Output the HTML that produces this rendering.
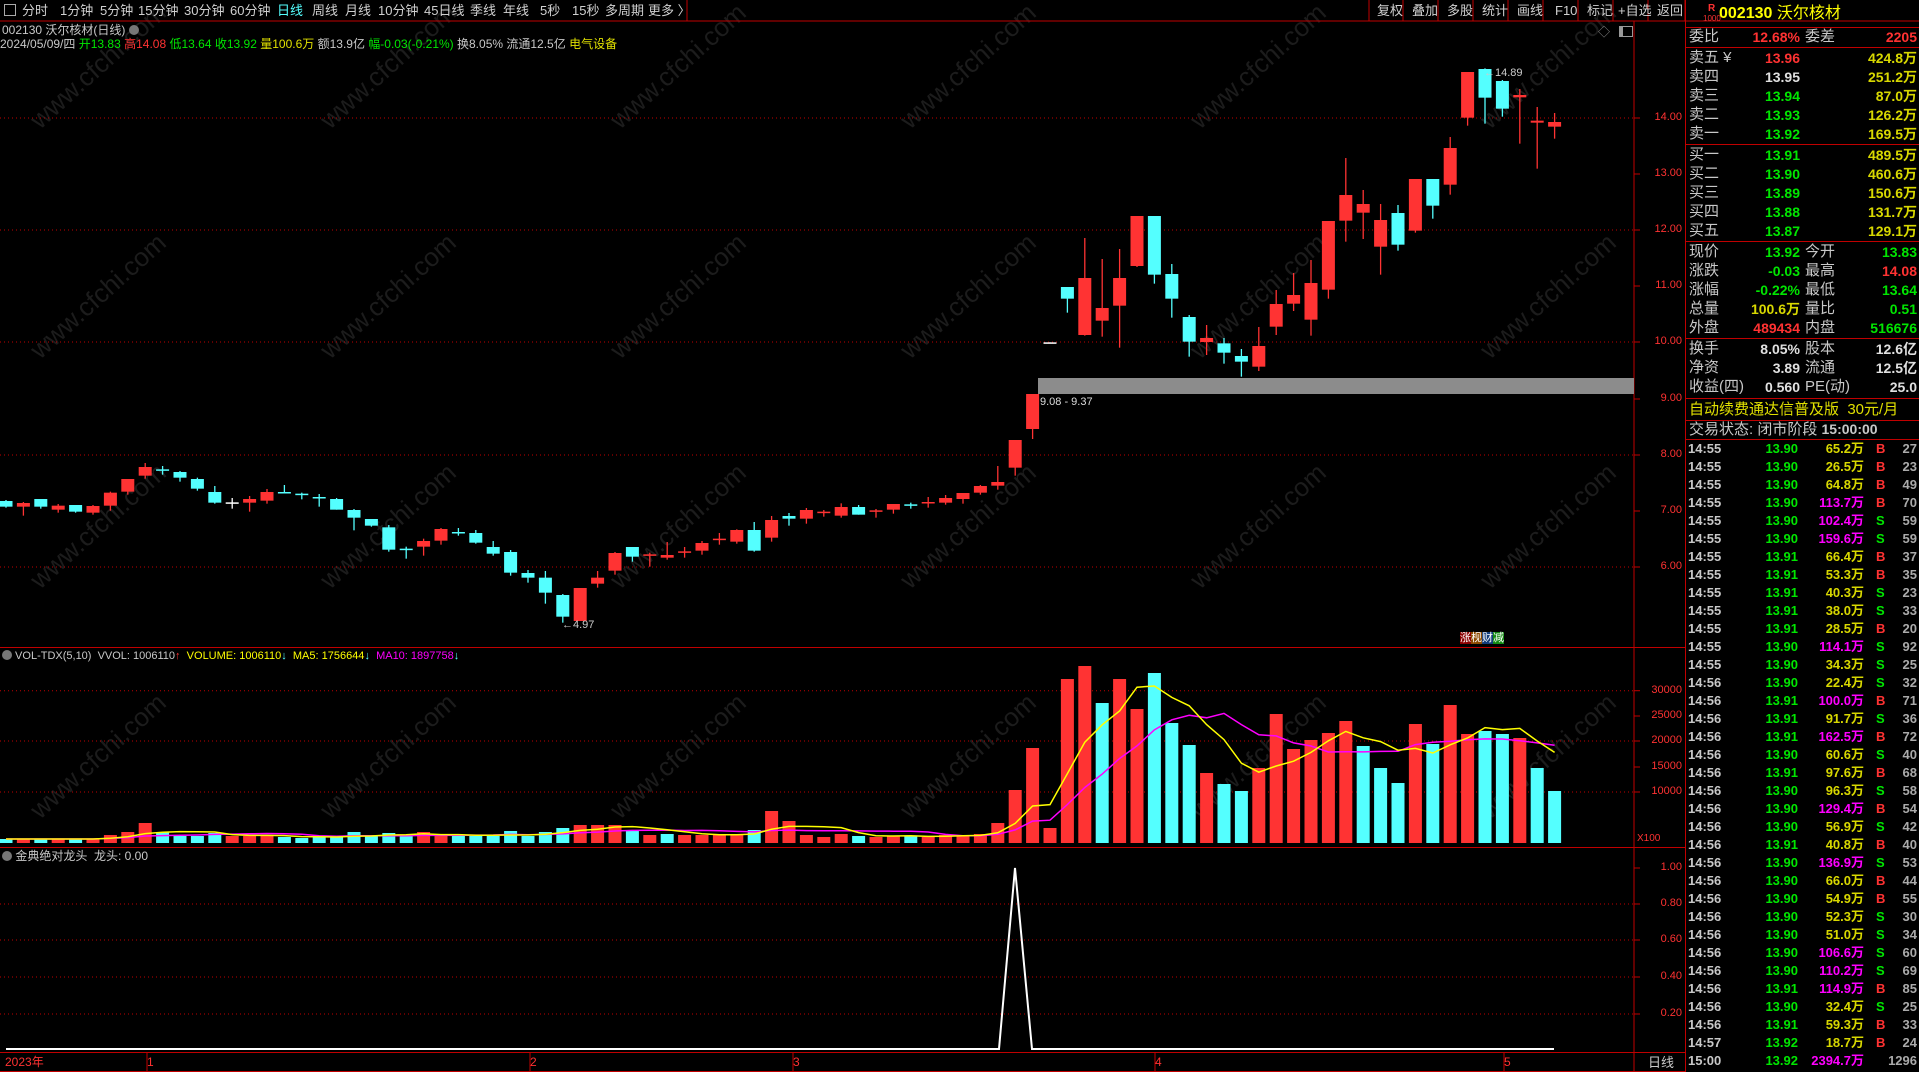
<!DOCTYPE html>
<html><head><meta charset="utf-8">
<style>
html,body{margin:0;padding:0;background:#000;}
body{width:1919px;height:1072px;position:relative;overflow:hidden;font-family:"Liberation Sans","Noto Sans CJK SC",sans-serif;}
.t{position:absolute;white-space:nowrap;line-height:1;}
svg{position:absolute;left:0;top:0;}
.rp{position:absolute;white-space:nowrap;line-height:1;font-size:15px;}
.lab{color:#c8c8c8;}
.num{font-weight:bold;font-size:14px;}
</style></head><body>
<svg id="g" width="1919" height="1072" xmlns="http://www.w3.org/2000/svg"></svg>

<div class="t" style="left:4px;top:4px;width:10px;height:10px;border:1px solid #aaa;"></div>
<div class="t" style="top:4px;left:22px;font-size:13px;color:#d0d0d0;word-spacing:0">
<span style="position:absolute;left:0">分时</span><span style="position:absolute;left:38px">1分钟</span><span style="position:absolute;left:78px">5分钟</span><span style="position:absolute;left:116px">15分钟</span><span style="position:absolute;left:162px">30分钟</span><span style="position:absolute;left:208px">60分钟</span><span style="position:absolute;left:255px;color:#54ffff">日线</span><span style="position:absolute;left:290px">周线</span><span style="position:absolute;left:323px">月线</span><span style="position:absolute;left:356px">10分钟</span><span style="position:absolute;left:402px">45日线</span><span style="position:absolute;left:448px">季线</span><span style="position:absolute;left:481px">年线</span><span style="position:absolute;left:518px">5秒</span><span style="position:absolute;left:550px">15秒</span><span style="position:absolute;left:583px">多周期</span><span style="position:absolute;left:626px">更多 〉</span>
</div>
<div class="t" style="top:4px;left:1369px;font-size:13px;color:#d0d0d0;">
<span style="position:absolute;left:8px">复权</span><span style="position:absolute;left:43px">叠加</span><span style="position:absolute;left:78px">多股</span><span style="position:absolute;left:113px">统计</span><span style="position:absolute;left:148px">画线</span><span style="position:absolute;left:186px">F10</span><span style="position:absolute;left:218px">标记</span><span style="position:absolute;left:249px">+自选</span><span style="position:absolute;left:288px">返回</span>
</div>

<div class="t" style="left:2px;top:24px;font-size:12px;color:#c8c8c8">002130 沃尔核材(日线) <span style="display:inline-block;width:10px;height:10px;border-radius:5px;background:#777;vertical-align:-1px"></span></div>
<div class="t" style="left:0px;top:38px;font-size:12px;color:#c8c8c8">2024/05/09/四 <span style="color:#00e600">开13.83</span> <span style="color:#ff3232">高14.08</span> <span style="color:#00e600">低13.64</span> <span style="color:#00e600">收13.92</span> <span style="color:#e0e000">量100.6万</span> 额13.9亿 <span style="color:#00e600">幅-0.03(-0.21%)</span> 换8.05% 流通12.5亿 <span style="color:#e0e000">电气设备</span></div>

<div class="t" style="left:1598px;top:26px;font-size:12px;color:#888">◇</div>
<div class="t" style="left:1619px;top:26px;width:9px;height:9px;border:1px solid #999;border-left-width:4px"></div>

<div class="t" style="left:1460px;top:633px;font-size:11px;color:#fff"><span style="background:#8b0000">涨</span><span style="background:#8b4a00">枧</span><span style="background:#123c7a">财</span><span style="background:#138a13">减</span></div>
<div class="t" style="left:562px;top:620px;font-size:11px;color:#ccc">←4.97</div>
<div class="t" style="left:1484px;top:68px;font-size:11px;color:#ccc">←14.89</div>
<div class="t" style="left:1040px;top:397px;font-size:11px;color:#ddd">9.08 - 9.37</div>

<div id="axl"></div>

<div class="t" style="left:2px;top:650px;font-size:11px;color:#c8c8c8"><span style="display:inline-block;width:10px;height:10px;border-radius:5px;background:#777;vertical-align:-1px"></span> VOL-TDX(5,10) &nbsp;VVOL: 1006110<span style="color:#ff3232">↑</span> &nbsp;<span style="color:#ffff00">VOLUME: 1006110<span style="color:#54ffff">↓</span></span> &nbsp;<span style="color:#ffff00">MA5: 1756644<span style="color:#54ffff">↓</span></span> &nbsp;<span style="color:#ff00ff">MA10: 1897758<span style="color:#54ffff">↓</span></span></div>
<div class="t" style="left:2px;top:850px;font-size:12px;color:#c8c8c8"><span style="display:inline-block;width:10px;height:10px;border-radius:5px;background:#777;vertical-align:-1px"></span> 金典绝对龙头 &nbsp;龙头: 0.00</div>
<div class="t" style="left:1637px;top:834px;font-size:10px;color:#ff3232">X100</div>

<div class="t" style="left:5px;top:1056px;font-size:12px;color:#ff3232">2023年</div>
<div class="t" style="left:147px;top:1056px;font-size:12px;color:#ff3232">1</div>
<div class="t" style="left:530px;top:1056px;font-size:12px;color:#ff3232">2</div>
<div class="t" style="left:793px;top:1056px;font-size:12px;color:#ff3232">3</div>
<div class="t" style="left:1155px;top:1056px;font-size:12px;color:#ff3232">4</div>
<div class="t" style="left:1504px;top:1056px;font-size:12px;color:#ff3232">5</div>
<div class="t" style="left:1648px;top:1056px;font-size:13px;color:#c8c8c8">日线</div>

<div class="t" style="left:1708px;top:4px;font-size:10px;color:#ff3232;font-weight:bold">R</div>
<div class="t" style="left:1703px;top:15px;font-size:8px;color:#ff3232">1000</div>
<div class="t" style="left:1719px;top:6px;font-size:16px;color:#ffff00;font-weight:bold">002130 <span style="font-weight:normal">沃尔核材</span></div>
<div id="rpd"></div>

<script>
const S='http://www.w3.org/2000/svg',g=document.getElementById('g');
function el(n,a){const e=document.createElementNS(S,n);for(const k in a)e.setAttribute(k,a[k]);g.appendChild(e);return e;}
for(let r=0;r<4;r++)for(let c=0;c<6;c++){const x=40+c*290,y=130+r*230;const t=el('text',{x:x,y:y,fill:'#1c1c1c','font-size':'26','font-family':'Liberation Sans',transform:`rotate(-42 ${x} ${y})`});t.textContent='www.cfchi.com';}
const R='#c00000';
el('line',{x1:0,y1:21,x2:1919,y2:21,stroke:R});
[1369,1403,1438,1473,1508,1543,1578,1613,1648,1685].forEach(x=>el('line',{x1:x,y1:0,x2:x,y2:21,stroke:R}));
el('line',{x1:687,y1:0,x2:687,y2:21,stroke:R});
el('line',{x1:1634,y1:21,x2:1634,y2:1072,stroke:R});
el('line',{x1:1685.5,y1:0,x2:1685.5,y2:1072,stroke:R});
el('line',{x1:0,y1:647.5,x2:1685,y2:647.5,stroke:R});
el('line',{x1:0,y1:847.5,x2:1685,y2:847.5,stroke:R});
el('line',{x1:0,y1:1052.5,x2:1685,y2:1052.5,stroke:R});
el('line',{x1:0,y1:1071.5,x2:1685,y2:1071.5,stroke:R});
[147,530,793,1155,1504].forEach(x=>el('line',{x1:x,y1:1052,x2:x,y2:1072,stroke:R}));
function grid(y){el('line',{x1:0,y1:y,x2:1634,y2:y,stroke:'#c00000','stroke-dasharray':'1,3'});}
[118,230,342,455,567,690.7,741,792,904,940,977,1014].forEach(grid);
let ax='';
const pl=[[118,'14.00'],[174,'13.00'],[230,'12.00'],[286,'11.00'],[342,'10.00'],[399,'9.00'],[455,'8.00'],[511,'7.00'],[567,'6.00'],
[690.7,'30000'],[716,'25000'],[741,'20000'],[767,'15000'],[792,'10000'],[868,'1.00'],[904,'0.80'],[940,'0.60'],[977,'0.40'],[1014,'0.20']];
pl.forEach(p=>{ax+=`<div class="t" style="right:${1919-1682}px;top:${p[0]-6}px;font-size:11px;color:#ff3232">${p[1]}</div>`;el('line',{x1:1634,y1:p[0],x2:1640,y2:p[0],stroke:R});});
document.getElementById('axl').innerHTML=ax;
el('rect',{x:1038,y:378,width:596,height:16,fill:'#8c8c8c'});
const A=`c,183,200,180,203|r,189,200,186,227|c,177,200,177,206|r,197,209,192,218|c,195,215,195,218|r,198,218,195,224|r,158,197,155,212|r,117,155,117,164|r,81,107,69,116|c,88,91,78,104|c,96,113,93,125|c,117,146,113,152|c,156,188,138,191|w,187,190,174,206|r,177,188,168,215|r,156,182,147,191|c,156,159,135,160|c,161,164,158,178|c,171,174,162,200|c,177,209,174,209|c,210,233,207,271|c,237,257,237,260|c,262,329,255,335|c,326,329,320,356|r,303,320,296,347|r,267,302,264,314|c,276,279,264,287|c,279,308,270,311|c,321,341,303,347|c,336,398,330,407|c,399,413,390,428|c,413,458,393,491|c,465,530,462,548|r,444,543,444,543|r,413,431,393,443|r,339,392,336,404|c,321,350,321,365|r,343,346,338,380|r,345,353,306,359|r,334,337,321,353|r,309,332,303,344|r,296,299,279,314|r,270,305,268,311|c,270,332,246,335|r,240,293,228,305|c,228,236,219,257|r,210,236,204,251`;
const B=`r,455,458,450,470|r,441,467,430,473|c,441,464,435,464|r,451,454,447,473|r,432,449,432,461|c,433,436,428,446|r,426,429,411,443|r,414,428,405,434|r,399,417,399,431|r,378,398,375,404|r,366,377,318,389|r,240,323,240,347|r,102,207,102,237`;
const C=`w,877,880,877,880|c,711,746,711,788|r,684,855,564,857|r,774,812,627,860|r,684,767,597,893|r,498,648,498,651|c,498,674,498,701|c,672,746,642,803|c,801,875,795,920|r,864,876,825,915|c,880,908,864,941|c,918,935,897,980|r,888,950,831,963|r,762,830,720,855|r,735,761,669,783|r,699,809,630,857|r,513,719,513,746|r,435,512,324,575|r,462,488,420,567|r,510,590,462,674|c,489,584,465,602|r,387,542,387,548|c,387,467,387,506|r,294,404,261,434|r,66,203,66,227|c,57,143,55,221|c,93,176,90,200|r,135,142,117,281|r,212,218,171,356|r,216,230,189,266`;
const col={r:'#ff3333',c:'#54ffff',w:'#ffffff'};
let idx=0;
[[A,440],[B,360],[C,50]].forEach(([s,off])=>{s.split('|').forEach(q=>{const p=q.split(',');const x=6+17.4*idx;const f=col[p[0]];
const bt=off+p[1]/3,bb=off+p[2]/3,wt=off+p[3]/3,wb=off+p[4]/3;
el('line',{x1:x,y1:wt,x2:x,y2:wb,stroke:f,'stroke-width':1.3});
el('rect',{x:x-6.5,y:bt,width:13,height:Math.max(1.5,bb-bt),fill:f});idx++;});});
const vh=[4,4,4,4,4,4,8,11,20,11,7,7,10,7,7,7,6,5,6,6,11,7,10,7,11,7,7,7,7,12,7,11,15,18,18,18,13,8,9,8,8,8,8,13,32,22,8,6,9,7,6,7,7,6,8,8,
9,20,53,95,15,164,177,140,164,134,170,120,98,70,59,52,75,129,94,103,110,122,97,75,60,119,99,138,109,112,109,105,75,52];
const vc='crcrcrrrrccccrrrccccccccrrccccccc'+'rrrcrcrrrrcrr'+'rrrcrrcrrr'+'rrrrrrrcrrcccrccrrrrrrcccrcrrccrcc';
const base=843;
vh.forEach((h,i)=>{const x=6+17.4*i;el('rect',{x:x-6.5,y:base-h,width:13,height:h,fill:vc[i]==='r'?'#ff3333':'#54ffff'});});
function ma(n){return vh.map((v,i)=>{const s=vh.slice(Math.max(0,i-n+1),i+1);return s.reduce((a,b)=>a+b,0)/s.length;});}
function pl2(arr,c){el('polyline',{points:arr.map((v,i)=>`${6+17.4*i},${base-v}`).join(' '),fill:'none',stroke:c,'stroke-width':1.5});}
pl2(ma(10),'#ff00ff');pl2(ma(5),'#ffff00');
el('polyline',{points:'6,1049 999,1049 1015,868 1032,1049 1554,1049',fill:'none',stroke:'#fff','stroke-width':2});
[27,47,144,241,338,398,420,439].forEach(y=>el('line',{x1:1686,y1:y+.5,x2:1919,y2:y+.5,stroke:R}));
let h='';
function row(y,l,v,vcol,l2,v2,v2col){h+=`<div class="rp lab" style="left:1689px;top:${y-8}px">${l}</div>`;
if(v)h+=`<div class="rp num" style="right:${1919-1800}px;top:${y-7}px;color:${vcol}">${v}</div>`;
if(l2)h+=`<div class="rp lab" style="left:1805px;top:${y-8}px">${l2}</div>`;
if(v2)h+=`<div class="rp num" style="right:2px;top:${y-7}px;color:${v2col}">${v2}</div>`;}
const G='#00e600',RD='#ff3232',Y='#d8d800',W='#e0e0e0';
row(37,'委比','12.68%',RD,'委差','2205',RD);
row(58,'卖五 ¥','13.96',RD,'','424.8万',Y);
row(77,'卖四','13.95',W,'','251.2万',Y);
row(96,'卖三','13.94',G,'','87.0万',Y);
row(115,'卖二','13.93',G,'','126.2万',Y);
row(134,'卖一','13.92',G,'','169.5万',Y);
row(155,'买一','13.91',G,'','489.5万',Y);
row(174,'买二','13.90',G,'','460.6万',Y);
row(193,'买三','13.89',G,'','150.6万',Y);
row(212,'买四','13.88',G,'','131.7万',Y);
row(231,'买五','13.87',G,'','129.1万',Y);
row(252,'现价','13.92',G,'今开','13.83',G);
row(271,'涨跌','-0.03',G,'最高','14.08',RD);
row(290,'涨幅','-0.22%',G,'最低','13.64',G);
row(309,'总量','100.6万',Y,'量比','0.51',G);
row(328,'外盘','489434',RD,'内盘','516676',G);
row(349,'换手','8.05%',W,'股本','12.6亿',W);
row(368,'净资','3.89',W,'流通','12.5亿',W);
row(387,'收益(四)','0.560',W,'PE(动)','25.0',W);
h+=`<div class="rp" style="left:1689px;top:402px;color:#e0e000">自动续费通达信普及版 &nbsp;30元/月</div>`;
h+=`<div class="rp lab" style="left:1689px;top:422px">交易状态: 闭市阶段 <b style="font-size:14px">15:00:00</b></div>`;
const T=`14:55,13.90,65.2,B,27|14:55,13.90,26.5,B,23|14:55,13.90,64.8,B,49|14:55,13.90,113.7,B,70|14:55,13.90,102.4,S,59|14:55,13.90,159.6,S,59|14:55,13.91,66.4,B,37|14:55,13.91,53.3,B,35|14:55,13.91,40.3,S,23|14:55,13.91,38.0,S,33|14:55,13.91,28.5,B,20|14:55,13.90,114.1,S,92|14:55,13.90,34.3,S,25|14:56,13.90,22.4,S,32|14:56,13.91,100.0,B,71|14:56,13.91,91.7,S,36|14:56,13.91,162.5,B,72|14:56,13.90,60.6,S,40|14:56,13.91,97.6,B,68|14:56,13.90,96.3,S,58|14:56,13.90,129.4,B,54|14:56,13.90,56.9,S,42|14:56,13.91,40.8,B,40|14:56,13.90,136.9,S,53|14:56,13.90,66.0,B,44|14:56,13.90,54.9,B,55|14:56,13.90,52.3,S,30|14:56,13.90,51.0,S,34|14:56,13.90,106.6,S,60|14:56,13.90,110.2,S,69|14:56,13.91,114.9,B,85|14:56,13.90,32.4,S,25|14:56,13.91,59.3,B,33|14:57,13.92,18.7,B,24|15:00,13.92,2394.7,,1296`;
T.split('|').forEach((q,i)=>{const p=q.split(',');const y=449+18*i-7;const vv=parseFloat(p[2]);
h+=`<div class="rp num" style="left:1688px;top:${y}px;color:#c8c8c8;font-size:13px">${p[0]}</div>`;
h+=`<div class="rp num" style="right:${1919-1798}px;top:${y}px;color:${G};font-size:13px">${p[1]}</div>`;
h+=`<div class="rp num" style="right:${1919-1864}px;top:${y}px;color:${vv>=100?'#ff00ff':'#d8d800'};font-size:13px">${p[2]}万</div>`;
if(p[3])h+=`<div class="rp num" style="left:1876px;top:${y}px;color:${p[3]=='B'?RD:G};font-size:13px">${p[3]}</div>`;
h+=`<div class="rp num" style="right:2px;top:${y}px;color:#aaa;font-size:13px">${p[4]}</div>`;});
document.getElementById('rpd').innerHTML=h;
</script>
</body></html>
